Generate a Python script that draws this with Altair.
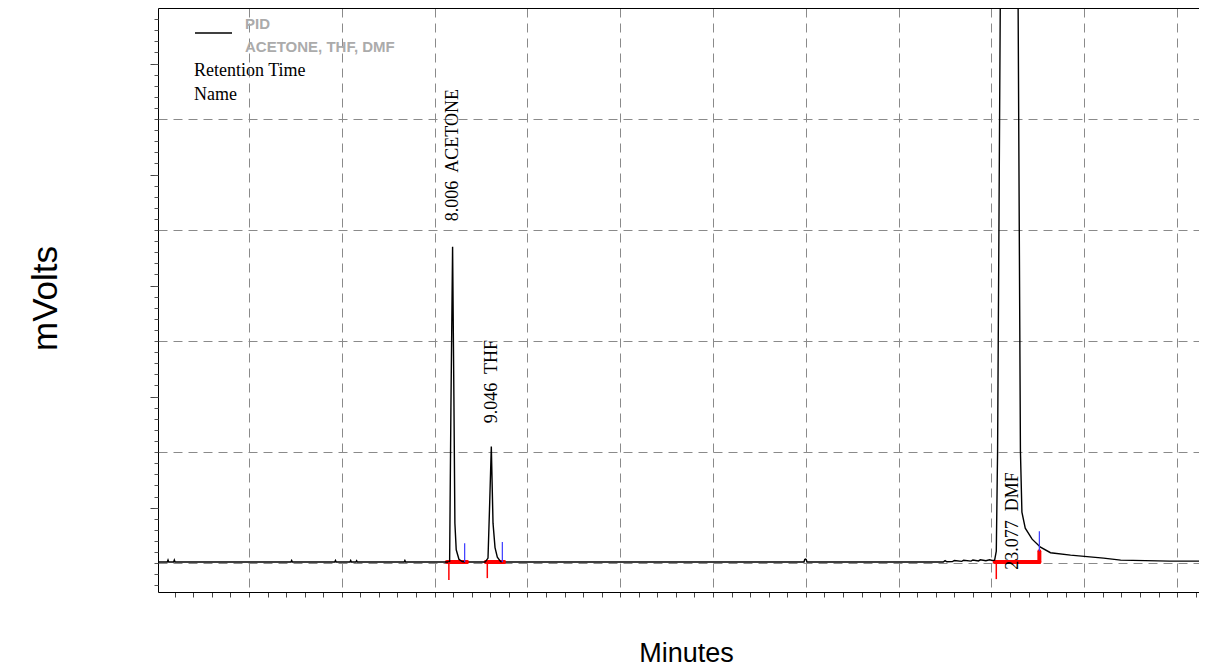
import altair as alt
import pandas as pd

# ---- chromatogram trace (minutes, mVolts) ----
time_min = [
    0.05, 0.30, 0.32, 0.34, 0.47, 0.49, 0.51,
    3.63, 3.65, 3.67,
    4.81, 4.83, 4.85,
    5.22, 5.24, 5.26, 5.38, 5.40, 5.42,
    6.68, 6.70, 6.72,
    7.88, 7.905, 7.94, 7.985, 8.02, 8.047, 8.083, 8.156, 8.245, 8.37,
    8.86, 8.876, 8.939, 8.985, 9.028, 9.074, 9.128, 9.19, 9.28, 9.40,
    17.45, 17.47, 17.49, 17.51, 17.53,
    21.20, 21.25, 21.30, 21.45, 21.50, 21.70, 21.75, 21.95, 22.00, 22.15,
    22.20, 22.35, 22.45, 22.52, 22.585, 22.63, 22.665, 22.74, 22.98, 23.215,
    23.28, 23.32, 23.41, 23.595, 23.82, 24.09, 24.63, 25.52, 25.98, 27.30, 28.09,
]
signal_mv = [
    1.0, 1.0, 2.8, 1.0, 1.0, 2.8, 1.0,
    1.0, 2.4, 1.0,
    1.0, 2.4, 1.0,
    1.0, 2.4, 1.0, 1.0, 2.2, 1.0,
    1.0, 2.4, 1.0,
    1.0, 1.5, 140.0, 285.0, 150.0, 36.0, 12.0, 3.5, 1.5, 1.0,
    1.0, 1.6, 4.5, 55.0, 105.0, 36.0, 14.0, 5.4, 1.4, 1.0,
    1.0, 3.2, 3.6, 3.2, 1.0,
    1.0, 2.2, 1.2, 1.4, 2.4, 1.6, 2.6, 1.8, 2.8, 2.0,
    3.0, 2.2, 3.0, 2.4, 2.7, 10.8, 101.0, 520.0, 2400.0, 520.0,
    101.0, 46.0, 31.5, 21.6, 14.4, 9.4, 7.2, 4.5, 2.7, 1.8, 1.8,
]

# ---- peaks ----
peak_rt = [8.006, 9.046, 23.077]
peak_name = ["ACETONE", "THF", "DMF"]
peak_label_mv = [308.0, 126.0, -6.0]

# ---- integration markers ----
int_start = [7.83, 8.876, 22.585]
int_end = [8.37, 9.37, 23.79]
int_level = [1.0, 1.0, 1.0]
int_end_level = [1.0, 1.0, 10.8]
start_mark_t = [7.885, 8.92, 22.63]
start_mark_low = [-15.3, -13.5, -14.4]
end_mark_t = [8.31, 9.325, 23.79]
end_mark_high = [18.0, 19.0, 28.8]

# ---- axis tick values ----
x_minor = [0.5 * i for i in range(1, 57)]
x_grid = [2.5 * i for i in range(1, 12)]
y_grid = [0, 100, 200, 300, 400]
y_major = [50, 150, 250, 350, 450]
y_minor = list(range(-20, 500, 10))

trace = pd.DataFrame({"t": time_min, "mv": signal_mv})
peaks = pd.DataFrame({
    "rt": peak_rt,
    "label": [f"{rt:.3f}\u00a0 {n}" for rt, n in zip(peak_rt, peak_name)],
    "ly": peak_label_mv,
})
integ = pd.DataFrame({
    "start": int_start, "end": int_end, "level": int_level,
    "end_level": int_end_level, "smt": start_mark_t, "sml": start_mark_low,
    "emt": end_mark_t, "emh": end_mark_high,
})

xs = alt.Scale(domain=[0.05, 28.09], nice=False, zero=False)
ys = alt.Scale(domain=[-26, 500], nice=False, zero=False)

GRID = "#8a8a8a"

bottom_axis = alt.Axis(
    orient="bottom", values=x_minor, tickSize=5, tickColor="#444", tickWidth=1,
    labels=False, grid=False, domain=True, domainColor="black", domainWidth=1,
    title="Minutes", titleFont="Liberation Sans", titleFontSize=27,
    titleFontWeight="normal", titleColor="black", titleX=528, titleY=69,
    titleAlign="center", titleBaseline="alphabetic",
)
left_axis = alt.Axis(
    orient="left", values=y_major, tickSize=8, tickColor="#444", tickWidth=1,
    labels=False, grid=False, domain=True, domainColor="black", domainWidth=1,
    title="mVolts", titleFont="Liberation Sans", titleFontSize=35,
    titleFontWeight="normal", titleColor="black", titleX=-113, titleY=290,
    titleAngle=270, titleAlign="center", titleBaseline="middle",
)
grid_x_axis = alt.Axis(
    orient="bottom", values=x_grid, grid=True, gridColor=GRID, gridDash=[9, 6],
    gridWidth=1, ticks=False, labels=False, domain=False, title=None,
)
grid_y_axis = alt.Axis(
    orient="left", values=y_grid, grid=True, gridColor=GRID, gridDash=[9, 6],
    gridWidth=1, ticks=False, labels=False, domain=False, title=None,
)
top_axis = alt.Axis(
    orient="top", ticks=False, labels=False, grid=False, domain=True,
    domainColor="black", domainWidth=1, title=None,
)
minor_y_axis = alt.Axis(
    orient="left", values=y_minor, tickSize=4, tickColor="#555", tickWidth=1,
    labels=False, grid=False, domain=False, title=None,
)

signal = alt.Chart(trace).mark_line(color="black", strokeWidth=1.4, clip=True).encode(
    x=alt.X("t:Q", scale=xs, axis=bottom_axis),
    y=alt.Y("mv:Q", scale=ys, axis=left_axis),
)

red_base = alt.Chart(integ).mark_rule(color="#ff0000", strokeWidth=4, strokeCap="round").encode(
    x=alt.X("start:Q", scale=xs, axis=grid_x_axis),
    x2="end:Q",
    y=alt.Y("level:Q", scale=ys, axis=grid_y_axis),
)
red_step = alt.Chart(integ).mark_rule(color="#ff0000", strokeWidth=4, strokeCap="round").encode(
    x=alt.X("end:Q", scale=xs, axis=None),
    y=alt.Y("level:Q", scale=ys, axis=None),
    y2="end_level:Q",
)
red_ticks = alt.Chart(integ).mark_rule(color="#ff0000", strokeWidth=1.5).encode(
    x=alt.X("smt:Q", scale=xs, axis=None),
    y=alt.Y("level:Q", scale=ys, axis=None),
    y2="sml:Q",
)
blue_ticks = alt.Chart(integ).mark_rule(color="#3a3aff", strokeWidth=1.2).encode(
    x=alt.X("emt:Q", scale=xs, axis=top_axis),
    y=alt.Y("end_level:Q", scale=ys, axis=minor_y_axis),
    y2="emh:Q",
)

labels = alt.Chart(peaks).mark_text(
    angle=270, align="left", baseline="middle", font="Liberation Serif",
    fontSize=18, color="black",
).encode(
    x=alt.X("rt:Q", scale=xs, axis=None),
    y=alt.Y("ly:Q", scale=ys, axis=None),
    text="label:N",
)

one = alt.Data(values=[{}])
leg_line = alt.Chart(one).mark_rule(color="black", strokeWidth=1.5).encode(
    x=alt.value(37), x2=alt.value(74), y=alt.value(25)
)
leg_pid = alt.Chart(one).mark_text(
    text="PID", align="left", baseline="alphabetic", font="Liberation Sans",
    fontWeight="bold", fontSize=15, color="#ababab",
).encode(x=alt.value(87), y=alt.value(21))
leg_names = alt.Chart(one).mark_text(
    text="ACETONE, THF, DMF", align="left", baseline="alphabetic",
    font="Liberation Sans", fontWeight="bold", fontSize=15, color="#ababab",
).encode(x=alt.value(87), y=alt.value(44))
leg_rt = alt.Chart(one).mark_text(
    text="Retention Time", align="left", baseline="alphabetic",
    font="Liberation Serif", fontSize=18, color="black",
).encode(x=alt.value(36), y=alt.value(68))
leg_name = alt.Chart(one).mark_text(
    text="Name", align="left", baseline="alphabetic",
    font="Liberation Serif", fontSize=18, color="black",
).encode(x=alt.value(36), y=alt.value(92))

chart = alt.layer(
    red_base, signal, red_step, red_ticks, blue_ticks, labels,
    leg_line, leg_pid, leg_names, leg_rt, leg_name,
).resolve_axis(
    x="independent", y="independent"
).properties(
    width=1041, height=584,
    autosize=alt.AutoSizeParams(type="none"),
    padding={"left": 150, "top": 0, "right": 0, "bottom": 74},
    background="white",
).configure_view(stroke=None)

chart.save("out.html", embed_options={"renderer": "svg", "actions": False})
